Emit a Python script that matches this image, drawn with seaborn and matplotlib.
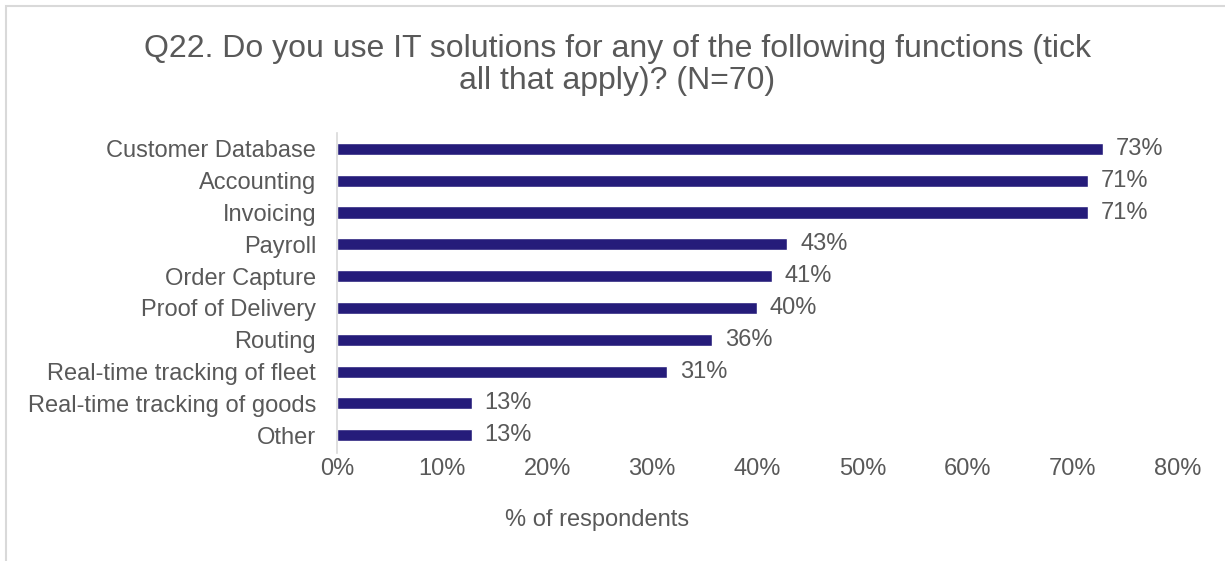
import matplotlib
matplotlib.use("Agg")
import matplotlib.pyplot as plt
import seaborn as sns
import pandas as pd
from matplotlib.patches import Rectangle

# data (share of the 70 respondents)
functions = ["Customer Database", "Accounting", "Invoicing", "Payroll",
             "Order Capture", "Proof of Delivery", "Routing",
             "Real-time tracking of fleet", "Real-time tracking of goods", "Other"]
counts = [51, 50, 50, 30, 29, 28, 25, 22, 9, 9]
n_resp = 70
share = [c / n_resp * 100 for c in counts]
xticks = [0, 10, 20, 30, 40, 50, 60, 70, 80]

df = pd.DataFrame({"function": functions, "share": share})

sns.set_theme(style="white")
plt.rcParams['font.family'] = ['Liberation Sans', 'DejaVu Sans']
grey = "#595959"

fig = plt.figure(figsize=(12.25, 5.61), dpi=100)
ax = fig.add_axes([0.275, 0.193, 0.6865, 0.570])

sns.barplot(data=df, y="function", x="share", orient="h", color="#251c7a",
            width=0.38, saturation=1, ax=ax)

for i, v in enumerate(share):
    ax.text(v + 1.2, i, f"{v:.0f}%", va="center", ha="left", fontsize=17, color=grey)

ax.set_xlim(0, 80)
ax.set_ylim(len(functions) - 0.45, -0.5)
ax.set_xticks(xticks)
ax.set_xticklabels([f"{t}%" for t in xticks])
ax.tick_params(axis="both", length=0, labelsize=17, labelcolor=grey)
ax.tick_params(axis="x", pad=4)
ax.tick_params(axis="y", pad=15)
ax.set_xlabel("")
ax.set_ylabel("")
for s in ["top", "right", "bottom"]:
    ax.spines[s].set_visible(False)
ax.spines["left"].set_color("#d9d9d9")
ax.spines["left"].set_linewidth(1.2)

fig.text(0.504, 0.884, "Q22. Do you use IT solutions for any of the following functions (tick\nall that apply)? (N=70)",
         ha="center", va="center", fontsize=23, color=grey, linespacing=1.06)
fig.text(0.487, 0.073, "% of respondents", ha="center", va="center", fontsize=17, color=grey)

# outer chart frame (cut off at right and bottom)
fig.patches.append(Rectangle((6 / 1225, -0.1), 1.2, 1.1 - 6 / 561, transform=fig.transFigure,
                             fill=False, edgecolor="#d9d9d9", linewidth=1.5))

fig.savefig("out.png", dpi=100)
